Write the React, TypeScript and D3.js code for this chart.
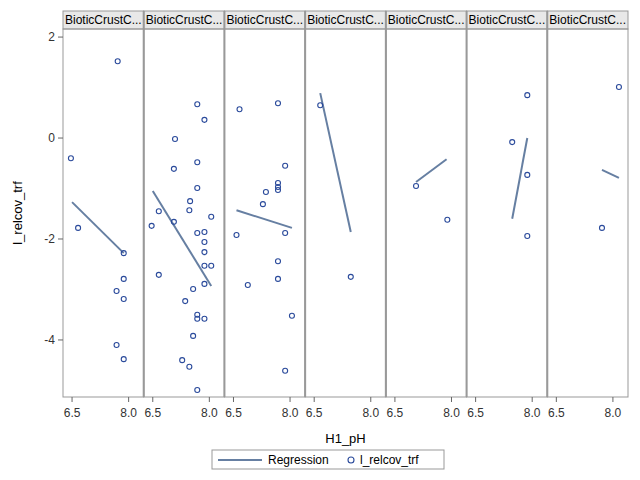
import React from 'react';
import * as d3 from 'd3';

const panelLabels = ['BioticCrustC...', 'BioticCrustC...', 'BioticCrustC...', 'BioticCrustC...', 'BioticCrustC...', 'BioticCrustC...', 'BioticCrustC...'];
const xTicks = [6.5, 8.0];
const yTicks = [2, 0, -2, -4];

// points per panel: [H1_pH, l_relcov_trf]
const points: [number, number][][] = [
  [[6.47, -0.4], [6.66, -1.78], [7.71, 1.52], [7.87, -2.28], [7.87, -2.79], [7.68, -3.03], [7.87, -3.19], [7.68, -4.1], [7.87, -4.38]],
  [[6.47, -1.74], [6.66, -1.45], [6.66, -2.71], [7.09, -0.02], [7.06, -0.61], [7.06, -1.66], [7.49, -1.25], [7.47, -1.43],
   [7.68, 0.67], [7.87, 0.36], [7.68, -0.48], [7.68, -0.99], [8.05, -1.56], [7.68, -1.88], [7.87, -1.86], [7.87, -2.06],
   [7.87, -2.26], [8.05, -2.53], [7.87, -2.53], [7.87, -2.89], [7.57, -2.99], [7.36, -3.23], [7.68, -3.5], [7.68, -3.58],
   [7.87, -3.58], [7.57, -3.92], [7.28, -4.4], [7.47, -4.53], [7.68, -4.99]],
  [[6.66, 0.57], [7.68, 0.69], [7.87, -0.55], [7.36, -1.07], [7.68, -0.89], [7.68, -0.97], [7.28, -1.31], [7.68, -1.03],
   [6.58, -1.92], [7.87, -1.88], [7.68, -2.44], [7.68, -2.79], [6.88, -2.91], [8.05, -3.52], [7.87, -4.61]],
  [[6.66, 0.65], [7.47, -2.75]],
  [[7.06, -0.95], [7.89, -1.62]],
  [[7.47, -0.08], [7.87, 0.85], [7.87, -0.73], [7.87, -1.94]],
  [[7.71, -1.78], [8.16, 1.01]],
];

// regression line endpoints per panel
const regLines: [number, number][][] = [
  [[6.5, -1.27], [7.87, -2.28]],
  [[6.5, -1.05], [8.05, -2.93]],
  [[6.58, -1.43], [8.05, -1.78]],
  [[6.66, 0.89], [7.47, -1.86]],
  [[7.06, -0.87], [7.87, -0.42]],
  [[7.47, -1.6], [7.87, 0.0]],
  [[7.71, -0.63], [8.16, -0.79]],
];

const W = 640, H = 480;
const left = 63, right = 628, top = 11, headerH = 18, bottom = 397;
const font = 'Arial, "Liberation Sans", sans-serif';
const lineColor = '#667FA2';
const ptColor = '#2A4A9B';

export default function App() {
  const n = panelLabels.length;
  const pw = (right - left) / n;
  const y = d3.scaleLinear().domain([-5.13, 2.16]).range([bottom, top + headerH]);
  const line = d3.line<[number, number]>();
  return (
    <svg width={W} height={H} style={{ position: 'absolute', left: 0, top: 0, background: '#fff' }} fontFamily={font}>
      <rect x={0} y={0} width={W} height={H} fill="#fff" />
      {panelLabels.map((lab, i) => {
        const x0 = left + i * pw;
        const x = d3.scaleLinear().domain([6.26, 8.4]).range([x0, x0 + pw]);
        return (
          <g key={i}>
            <rect x={x0} y={top} width={pw} height={headerH} fill="#E8E8E8" stroke="#999" />
            <text x={x0 + pw / 2} y={top + 13} textAnchor="middle" fontSize={12} fill="#000">{lab}</text>
            <rect x={x0} y={top + headerH} width={pw} height={bottom - top - headerH} fill="none" stroke="#999" strokeWidth={i > 0 ? 1 : 1} />
            {i > 0 && <line x1={x0} x2={x0} y1={top} y2={bottom} stroke="#999" strokeWidth={2} />}
            {xTicks.map(t => (
              <g key={t}>
                <line x1={x(t)} x2={x(t)} y1={bottom} y2={bottom + 5} stroke="#666" />
                <text x={x(t)} y={bottom + 20} textAnchor="middle" fontSize={12} fill="#333">{t.toFixed(1)}</text>
              </g>
            ))}
            <path d={line(regLines[i].map(d => [x(d[0]), y(d[1])]) as [number, number][]) || ''} stroke={lineColor} strokeWidth={2} fill="none" />
            {points[i].map((p, j) => (
              <circle key={j} cx={x(p[0])} cy={y(p[1])} r={2.5} fill="none" stroke={ptColor} strokeWidth={1.1} />
            ))}
          </g>
        );
      })}
      {yTicks.map(t => (
        <g key={t}>
          <line x1={left - 5} x2={left} y1={y(t)} y2={y(t)} stroke="#666" />
          <text x={left - 8} y={y(t) + 4} textAnchor="end" fontSize={12} fill="#333">{t}</text>
        </g>
      ))}
      <text x={(left + right) / 2} y={443} textAnchor="middle" fontSize={13} fill="#000">H1_pH</text>
      <text transform={`translate(22,${(top + headerH + bottom) / 2}) rotate(-90)`} textAnchor="middle" fontSize={13} fill="#000">l_relcov_trf</text>
      <rect x={212} y={450} width={232} height={19} fill="none" stroke="#999" />
      <line x1={218} x2={262} y1={460} y2={460} stroke={lineColor} strokeWidth={2} />
      <text x={268} y={464} fontSize={12} fill="#000">Regression</text>
      <circle cx={351} cy={460} r={3} fill="none" stroke={ptColor} strokeWidth={1.1} />
      <text x={360} y={464} fontSize={12} fill="#000">l_relcov_trf</text>
    </svg>
  );
}
